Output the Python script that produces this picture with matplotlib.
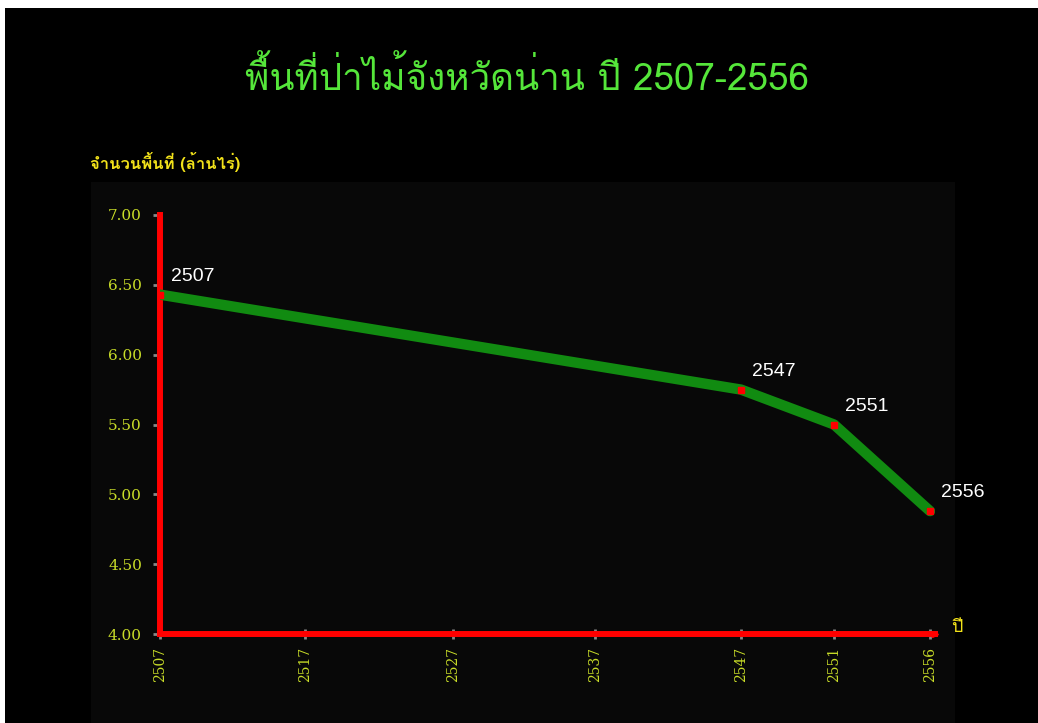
import matplotlib
matplotlib.use('Agg')
import matplotlib.pyplot as plt
from matplotlib import font_manager
from matplotlib.ft2font import FT2Font
from matplotlib.patches import Rectangle

# ข้อมูลพื้นที่ป่าไม้ (ล้านไร่)
years = ['2507', '2517', '2527', '2537', '2547', '2551', '2556']
tick_pos = [0, 145, 293, 435, 581, 674, 770]   # ระยะบนแกน x ตามภาพต้นฉบับ
point_years = ['2507', '2547', '2551', '2556']
point_values = [6.43, 5.75, 5.50, 4.88]
y_ticks = [4.00, 4.50, 5.00, 5.50, 6.00, 6.50, 7.00]

title = 'พื้นที่ป่าไม้จังหวัดน่าน ปี 2507-2556'
y_label = 'จำนวนพื้นที่ (ล้านไร่)'
x_label = 'ปี'

# หา font ที่มีตัวอักษรไทย (ใช้ Loma ถ้ามี)
thai_fonts = []
for f in font_manager.fontManager.ttflist:
    try:
        if FT2Font(f.fname).get_char_index(0x0E1E):
            if f.name not in thai_fonts:
                thai_fonts.append(f.name)
    except Exception:
        pass
if 'Loma' in thai_fonts:
    thai_fonts.remove('Loma')
    thai_fonts.insert(0, 'Loma')
thai_family = thai_fonts[:1] + ['Liberation Sans', 'DejaVu Sans']

W, H = 1038, 723
fig = plt.figure(figsize=(W / 100, H / 100), dpi=100, facecolor='white')
fig.patches.append(Rectangle((5 / W, 0), 1 - 5 / W, 1 - 8 / H, transform=fig.transFigure,
                             facecolor='black', edgecolor='none', zorder=-10))

# พื้นหลังส่วนกราฟ
bg = fig.add_axes([91 / W, 0, (955 - 91) / W, (723 - 182) / H])
bg.set_facecolor('#080808')
bg.set_xticks([])
bg.set_yticks([])
for s in bg.spines.values():
    s.set_visible(False)

ax = fig.add_axes([160 / W, (H - 634) / H, 775 / W, 419 / H])
ax.patch.set_alpha(0)
ax.set_xlim(0, 775)
ax.set_ylim(4, 7)

xs = [tick_pos[years.index(y)] for y in point_years]
ax.plot(xs, point_values, color='#118b11', linewidth=7.5, solid_capstyle='round',
        solid_joinstyle='round', zorder=3)
ax.plot(xs, point_values, 's', color='red', markersize=4, zorder=4)
for x, y, lab in zip(xs, point_values, point_years):
    ax.annotate(lab, (x, y), xytext=(8, 7), textcoords='offset points',
                color='white', fontsize=14, family='Liberation Sans',
                ha='left', va='bottom', zorder=5)

for side in ['top', 'right']:
    ax.spines[side].set_visible(False)
for side in ['left', 'bottom']:
    ax.spines[side].set_color('red')
    ax.spines[side].set_linewidth(4.3)
    ax.spines[side].set_zorder(2)
ax.plot([1], [0], '>', color='red', markersize=5, transform=ax.transAxes, clip_on=False)

ax.set_yticks(y_ticks)
ax.set_yticklabels([f'{v:.2f}' for v in y_ticks])
ax.set_xticks(tick_pos)
ax.set_xticklabels(years, rotation=90)
ax.tick_params(axis='y', colors='#888888', length=5, width=2, pad=8, labelsize=11,
               labelcolor='#c8dc28')
ax.tick_params(axis='x', colors='#888888', length=7, width=2, direction='inout', pad=6,
               labelsize=10, labelcolor='#c8dc28')
for t in ax.get_yticklabels() + ax.get_xticklabels():
    t.set_family('DejaVu Serif')

fig.text(527 / W, 1 - 78 / H, title, color='#55e63a', fontsize=26.5, family=thai_family,
         ha='center', va='center')
fig.text(90 / W, 1 - 162 / H, y_label, color='#f2e21a', fontsize=12, family=thai_family,
         fontweight='bold', ha='left', va='center')
fig.text(951 / W, 1 - 627 / H, x_label, color='#f2e21a', fontsize=13, family=thai_family,
         ha='left', va='center')

fig.savefig('out.png', dpi=100, facecolor=fig.get_facecolor())
